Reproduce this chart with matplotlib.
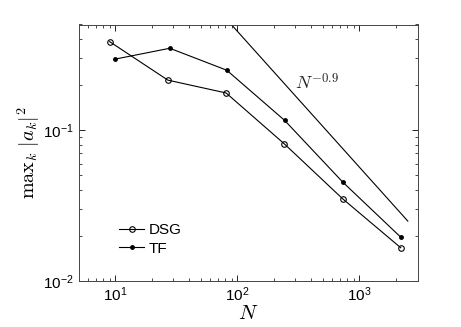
import matplotlib
matplotlib.use('Agg')
import matplotlib.pyplot as plt
import numpy as np

plt.rcParams['font.family'] = ['Liberation Sans', 'DejaVu Sans']
plt.rcParams['mathtext.fontset'] = 'cm'

# data
n_dsg = [9, 27, 81, 243, 729, 2187]
dsg = [0.385, 0.214, 0.176, 0.081, 0.0351, 0.0166]
n_tf = [10, 28, 82, 244, 730, 2188]
tf = [0.295, 0.348, 0.249, 0.116, 0.0453, 0.0195]

# reference slope line C*N^-0.9
ref_n = [50, 2500]
ref_c = 28.5
ref_p = -0.9

fig = plt.figure(figsize=(4.61, 3.27), dpi=100)
ax = fig.add_axes([78.5/461, 1 - 281/327, (417.5-78.5)/461, (281-24.5)/327])

ax.loglog(n_dsg, dsg, '-o', color='black', lw=0.8, ms=4, mfc='none', mew=0.8, label='DSG')
ax.loglog(n_tf, tf, '-o', color='black', lw=0.8, ms=2.5, label='TF')
ax.loglog(ref_n, [ref_c * n**ref_p for n in ref_n], '-', color='black', lw=0.8)

ax.text(295, 0.205, r'$N^{-0.9}$', fontsize=13, ha='left', va='center', color='#222222')

ax.set_xlim(5, 3000)
ax.set_ylim(0.01, 0.5)
ax.set_xlabel(r'$N$', fontsize=15, labelpad=0)
ax.set_ylabel(r'$\mathrm{max}_k\ |a_k|^2$', fontsize=14.5, labelpad=1)

ax.tick_params(which='both', direction='in', top=True, right=True, labelsize=11)
ax.tick_params(which='major', length=4, width=0.6)
ax.tick_params(which='minor', length=2, width=0.5)
for s in ax.spines.values():
    s.set_linewidth(0.7)
    s.set_color('#444444')

ax.legend(loc='lower left', frameon=False, fontsize=11, handlelength=1.6,
          handletextpad=0.3, labelspacing=0.3, bbox_to_anchor=(0.08, 0.045))

fig.savefig('out.png', dpi=100)
